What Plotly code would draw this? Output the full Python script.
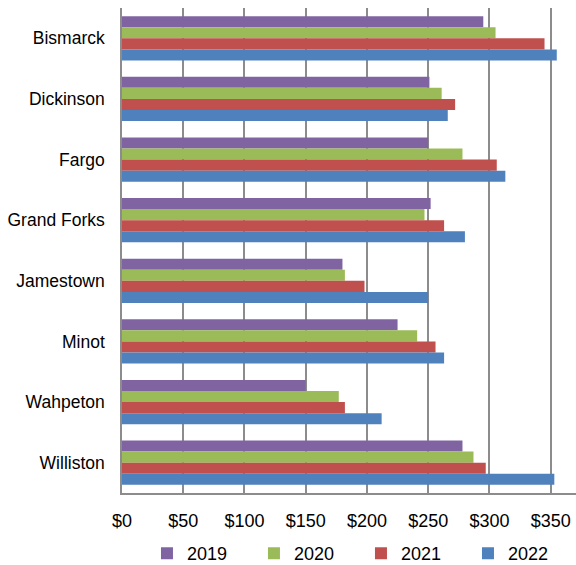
import plotly.graph_objects as go

cities = ["Bismarck", "Dickinson", "Fargo", "Grand Forks", "Jamestown", "Minot", "Wahpeton", "Williston"]
years = ["2019", "2020", "2021", "2022"]
v2019 = [295, 251, 250, 252, 180, 225, 150, 278]
v2020 = [305, 261, 278, 247, 182, 241, 177, 287]
v2021 = [345, 272, 306, 263, 198, 256, 182, 297]
v2022 = [355, 266, 313, 280, 250, 263, 212, 353]
tick_vals = [0, 50, 100, 150, 200, 250, 300, 350]
tick_text = ["$0", "$50", "$100", "$150", "$200", "$250", "$300", "$350"]

colors = ["#8064A2", "#9BBB59", "#C0504D", "#4F81BD"]
series = [v2019, v2020, v2021, v2022]

fig = go.Figure()
for name, vals, c in zip(years, series, colors):
    fig.add_trace(go.Bar(
        y=cities, x=vals, name=name, orientation="h",
        marker=dict(color=c, line=dict(width=0)),
    ))

fig.update_layout(
    width=576, height=565,
    margin=dict(l=122, r=0, t=8, b=72, autoexpand=False),
    barmode="group", bargap=0.27, bargroupgap=0,
    plot_bgcolor="white", paper_bgcolor="white",
    font=dict(family="Liberation Sans, Arial, sans-serif", size=18, color="#000000"),
    showlegend=True,
)
fig.update_xaxes(
    range=[0, 370.7], tickvals=tick_vals, ticktext=tick_text,
    showgrid=True, gridcolor="#8C8C8C", gridwidth=1.5,
    showline=True, linecolor="#8C8C8C", linewidth=1.5,
    zeroline=False, ticks="outside", ticklen=11, tickcolor="rgba(0,0,0,0)",
    tickfont=dict(size=18), automargin=False,
)
fig.update_yaxes(
    autorange="reversed", showgrid=False,
    showline=True, linecolor="#8C8C8C", linewidth=1.5,
    ticks="outside", ticklen=12, tickcolor="rgba(0,0,0,0)",
    tickfont=dict(size=17.5), automargin=False,
)
fig.update_layout(legend=dict(
    orientation="h", x=0.055, xanchor="left", y=-0.125, yanchor="middle",
    font=dict(size=18), entrywidth=62, entrywidthmode="pixels",
    traceorder="normal",
))

fig.write_html("out.html", config={"displayModeBar": False},
               post_script="document.body.style.margin='0px';")
